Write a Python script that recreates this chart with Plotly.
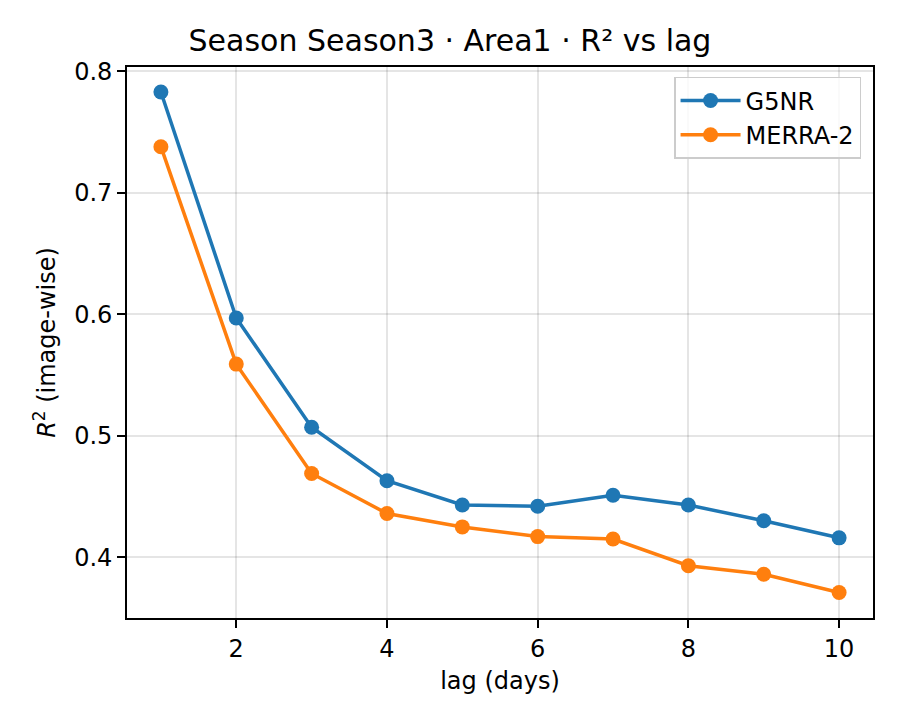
import plotly.graph_objects as go

lags = [1, 2, 3, 4, 5, 6, 7, 8, 9, 10]
g5nr = [0.783, 0.597, 0.507, 0.463, 0.443, 0.442, 0.451, 0.443, 0.430, 0.416]
merra2 = [0.738, 0.559, 0.469, 0.436, 0.425, 0.417, 0.415, 0.393, 0.386, 0.371]
x_ticks = [2, 4, 6, 8, 10]
y_ticks = [0.4, 0.5, 0.6, 0.7, 0.8]

FONT = "DejaVu Sans"

fig = go.Figure()
fig.add_trace(go.Scatter(x=lags, y=g5nr, mode="lines+markers", name="G5NR",
                         line=dict(color="#1f77b4", width=3.5),
                         marker=dict(size=15, color="#1f77b4")))
fig.add_trace(go.Scatter(x=lags, y=merra2, mode="lines+markers", name="MERRA-2",
                         line=dict(color="#ff7f0e", width=3.5),
                         marker=dict(size=15, color="#ff7f0e")))

axis_common = dict(showline=True, linecolor="black", linewidth=1.8, mirror=True,
                   ticks="outside", ticklen=8, tickwidth=1.8, tickcolor="black",
                   showgrid=True, gridcolor="rgba(0,0,0,0.1)", gridwidth=1.5,
                   zeroline=False, tickfont=dict(family=FONT, size=24, color="black"))

fig.update_layout(
    width=900, height=720,
    paper_bgcolor="white", plot_bgcolor="white",
    margin=dict(l=127, r=27, t=67, b=102),
    font=dict(family=FONT, size=24, color="black"),
    title=dict(text="Season Season3 · Area1 · R² vs lag", x=0.5, xanchor="center",
               y=1 - 40/720, yanchor="middle", font=dict(family=FONT, size=30, color="black")),
    xaxis=dict(range=[0.55, 10.45], tickvals=x_ticks,
               title=dict(text="lag (days)", font=dict(family=FONT, size=24), standoff=10),
               **axis_common),
    yaxis=dict(range=[0.35, 0.8036], tickvals=y_ticks, tickformat=".1f",
               title=dict(text="<i>R</i><sup>2</sup> (image-wise)", font=dict(family=FONT, size=24), standoff=12),
               **axis_common),
    legend=dict(x=0.984, y=0.982, xanchor="right", yanchor="top",
                bgcolor="rgba(255,255,255,0.8)", bordercolor="#cccccc", borderwidth=1.5,
                font=dict(family=FONT, size=24), itemwidth=60,
                entrywidth=210, entrywidthmode="pixels"),
    showlegend=True,
)

fig.write_html("out.html", config={"displayModeBar": False},
               post_script="document.body.style.margin='0';")
